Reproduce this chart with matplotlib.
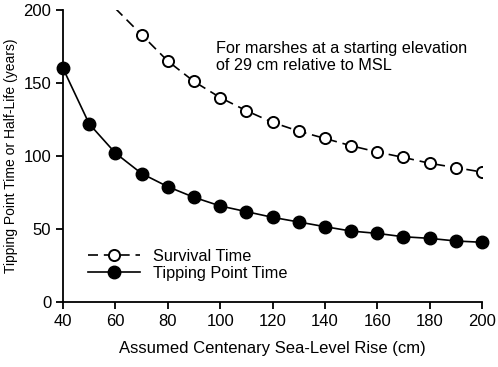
import matplotlib
matplotlib.use("Agg")
import matplotlib.pyplot as plt

plt.rcParams['font.family'] = ['Liberation Sans', 'DejaVu Sans']

# sea-level rise (cm)
slr = [40, 50, 60, 70, 80, 90, 100, 110, 120, 130, 140, 150, 160, 170, 180, 190, 200]
tipping = [160, 122, 102, 88, 79, 71.7, 65.8, 61.9, 58, 54.8, 51.6, 48.6, 47, 44.7, 43.6, 41.8, 40.9]

slr_surv = [60, 70, 80, 90, 100, 110, 120, 130, 140, 150, 160, 170, 180, 190, 200]
survival = [201, 183, 165, 151, 140, 131, 123, 117, 112, 107, 102.7, 99, 95, 92, 89]

fig = plt.figure(figsize=(4.98, 3.67), dpi=100)
ax = fig.add_axes([0.1265, 0.177, 0.8415, 0.796])

ax.plot(slr_surv, survival, color='k', lw=1.2, dashes=(6, 3.5), marker='o',
        ms=8, mfc='white', mec='k', mew=1.4, markevery=list(range(1, len(slr_surv))),
        label='Survival Time', clip_on=True)
ax.plot(slr, tipping, color='k', lw=1.2, marker='o', ms=9, mfc='k', mec='k',
        label='Tipping Point Time', clip_on=False, zorder=5)

ax.set_xlim(40, 200)
ax.set_ylim(0, 200)
ax.set_xticks(range(40, 201, 20))
ax.set_yticks(range(0, 201, 50))
ax.spines['top'].set_visible(False)
ax.spines['right'].set_visible(False)
ax.spines['left'].set_linewidth(1.3)
ax.spines['bottom'].set_linewidth(1.3)
ax.tick_params(direction='out', length=5, width=1.3, labelsize=12)

ax.set_xlabel("Assumed Centenary Sea-Level Rise (cm)", fontsize=12, labelpad=9)
ax.set_ylabel("Tipping Point Time or Half-Life (years)", fontsize=10, labelpad=4)

ax.text(98.5, 179, "For marshes at a starting elevation\nof 29 cm relative to MSL",
        fontsize=11.7, va='top', ha='left', linespacing=1.2)

ax.legend(loc='center left', bbox_to_anchor=(0.045, 0.127), frameon=False,
          fontsize=11.7, handlelength=3.2, handletextpad=0.8, labelspacing=0.15,
          borderaxespad=0)

fig.savefig("out.png", dpi=100)
